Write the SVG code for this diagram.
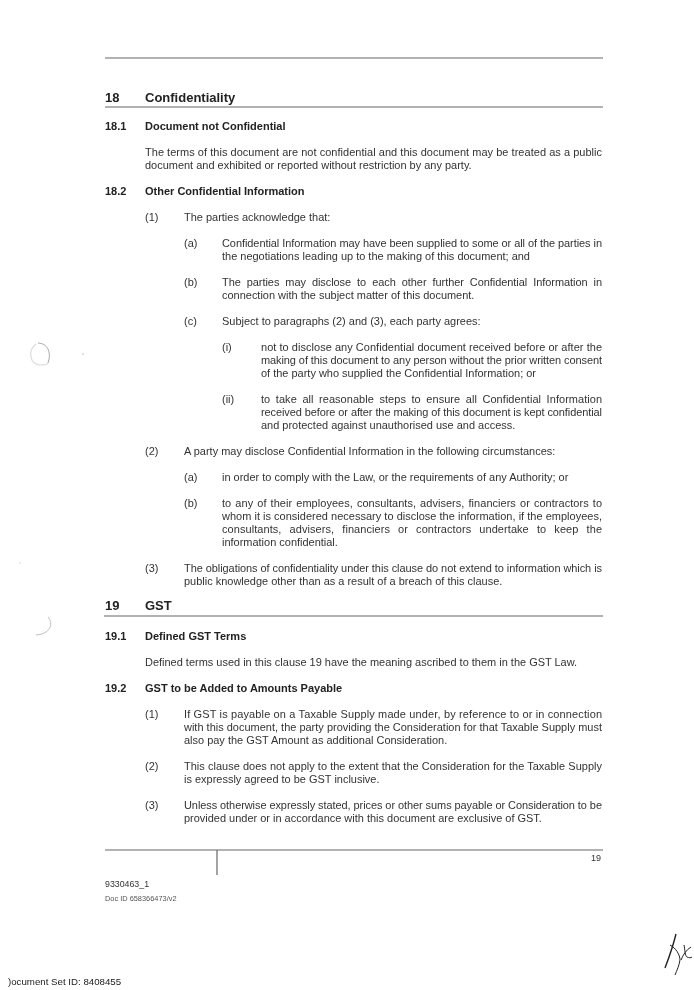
<svg xmlns="http://www.w3.org/2000/svg" width="694" height="990" viewBox="0 0 694 990">
<style>
text{font-family:"Liberation Sans",Arial,sans-serif;font-size:10.97px;fill:#333}
.h{font-weight:bold;font-size:11px;fill:#222}
.h1{font-weight:bold;font-size:13px;fill:#222}
.r{stroke:#666;stroke-width:1.2;fill:none}
.m{stroke:#ddd;stroke-width:1.2;fill:none}
</style>
<defs><filter id="b" x="-2%" y="-2%" width="104%" height="104%"><feGaussianBlur stdDeviation="0.4"/></filter></defs>
<rect width="694" height="990" fill="#fff"/>
<g id="page" filter="url(#b)">
<g id="connectors">
<path class="r" d="M105 58H603"/><path class="r" d="M105 107H603"/><path class="r" d="M104 616H603"/><path class="r" d="M105 850H603"/><path class="r" d="M217 850V875"/>
</g>
<g id="sec18">
<text class="h1" x="105" y="102">18</text><text class="h1" x="145" y="102">Confidentiality</text>
<text class="h" x="105" y="130">18.1</text><text class="h" x="145" y="130">Document not Confidential</text>
<text x="145" y="156" textLength="457">The terms of this document are not confidential and this document may be treated as a public</text>
<text x="145" y="169">document and exhibited or reported without restriction by any party.</text>
<text class="h" x="105" y="195">18.2</text><text class="h" x="145" y="195">Other Confidential Information</text>
<text x="145" y="221">(1)</text><text x="184" y="221">The parties acknowledge that:</text>
<text x="184" y="247">(a)</text><text x="222" y="247" textLength="380">Confidential Information may have been supplied to some or all of the parties in</text>
<text x="222" y="260">the negotiations leading up to the making of this document; and</text>
<text x="184" y="286">(b)</text><text x="222" y="286" textLength="380" word-spacing="3">The parties may disclose to each other further Confidential Information in</text>
<text x="222" y="299">connection with the subject matter of this document.</text>
<text x="184" y="325">(c)</text><text x="222" y="325">Subject to paragraphs (2) and (3), each party agrees:</text>
<text x="222" y="351">(i)</text><text x="261" y="351" textLength="341">not to disclose any Confidential document received before or after the</text>
<text x="261" y="364" textLength="341">making of this document to any person without the prior written consent</text>
<text x="261" y="377">of the party who supplied the Confidential Information; or</text>
<text x="222" y="403">(ii)</text><text x="261" y="403" textLength="341" word-spacing="2.5">to take all reasonable steps to ensure all Confidential Information</text>
<text x="261" y="416" textLength="341">received before or after the making of this document is kept confidential</text>
<text x="261" y="429">and protected against unauthorised use and access.</text>
<text x="145" y="455">(2)</text><text x="184" y="455">A party may disclose Confidential Information in the following circumstances:</text>
<text x="184" y="481">(a)</text><text x="222" y="481">in order to comply with the Law, or the requirements of any Authority; or</text>
<text x="184" y="507">(b)</text><text x="222" y="507" textLength="380" word-spacing="1">to any of their employees, consultants, advisers, financiers or contractors to</text>
<text x="222" y="520" textLength="380">whom it is considered necessary to disclose the information, if the employees,</text>
<text x="222" y="533" textLength="380" word-spacing="5">consultants, advisers, financiers or contractors undertake to keep the</text>
<text x="222" y="546">information confidential.</text>
<text x="145" y="572">(3)</text><text x="184" y="572" textLength="418">The obligations of confidentiality under this clause do not extend to information which is</text>
<text x="184" y="585">public knowledge other than as a result of a breach of this clause.</text>
</g>
<g id="sec19">
<text class="h1" x="105" y="610">19</text><text class="h1" x="145" y="610">GST</text>
<text class="h" x="105" y="640">19.1</text><text class="h" x="145" y="640">Defined GST Terms</text>
<text x="145" y="666">Defined terms used in this clause 19 have the meaning ascribed to them in the GST Law.</text>
<text class="h" x="105" y="692">19.2</text><text class="h" x="145" y="692">GST to be Added to Amounts Payable</text>
<text x="145" y="718">(1)</text><text x="184" y="718" textLength="418">If GST is payable on a Taxable Supply made under, by reference to or in connection</text>
<text x="184" y="731" textLength="418">with this document, the party providing the Consideration for that Taxable Supply must</text>
<text x="184" y="744">also pay the GST Amount as additional Consideration.</text>
<text x="145" y="770">(2)</text><text x="184" y="770" textLength="418">This clause does not apply to the extent that the Consideration for the Taxable Supply</text>
<text x="184" y="783">is expressly agreed to be GST inclusive.</text>
<text x="145" y="809">(3)</text><text x="184" y="809" textLength="418">Unless otherwise expressly stated, prices or other sums payable or Consideration to be</text>
<text x="184" y="822">provided under or in accordance with this document are exclusive of GST.</text>
</g>
<g id="footer">
<text x="591" y="861" style="font-size:9px">19</text>
<text x="105" y="887" style="font-size:8.8px">9330463_1</text>
<text x="105" y="901" style="font-size:7.4px;fill:#555">Doc ID 658366473/v2</text>
<text x="8" y="985" style="font-size:9.7px;fill:#222">)ocument Set ID: 8408455</text>
</g>
<g id="marks">
<path class="m" d="M36 344C28 350 29 364 40 365C44 365 47 365 48 363"/><path d="M38 343C47 343 52 352 48 363" fill="none" stroke="#aaa" stroke-width="1"/>
<circle cx="83" cy="354" r="0.8" fill="#bbb"/><circle cx="20" cy="563" r="0.7" fill="#ccc"/>
<path d="M48 617C54 624 50 634 36 635" fill="none" stroke="#bbb" stroke-width="1"/>
<path d="M676 934C672 950 668 960 665 968" stroke="#222" stroke-width="1.4" fill="none"/>
<path d="M670 945C676 948 680 955 680 960C679 966 677 970 675 975M691 947C686 950 683 955 681 960M684 945C685 950 685 956 687 957C689 958 691 958 692 957" stroke="#222" stroke-width="1" fill="none"/>
</g>
</g>
</svg>
